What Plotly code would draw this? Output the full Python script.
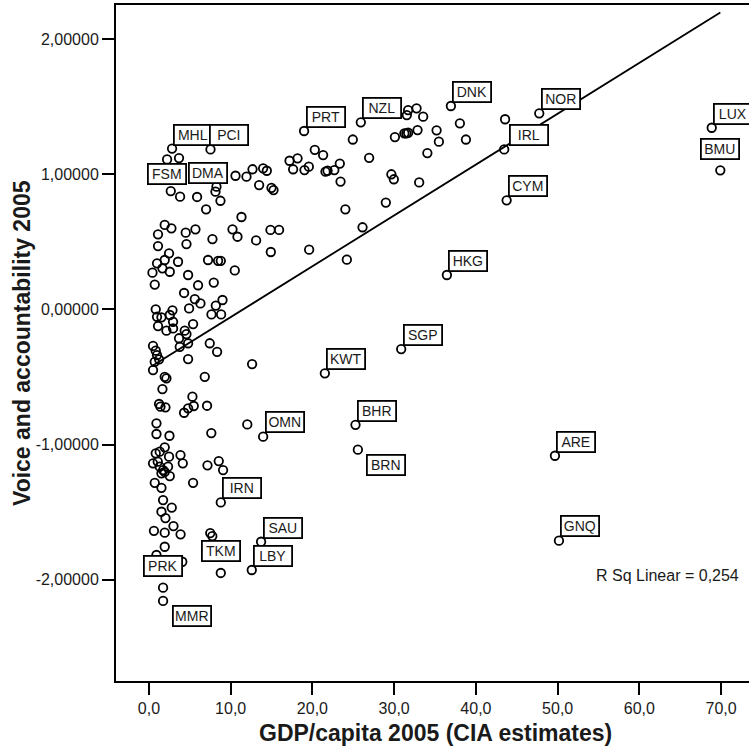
import plotly.graph_objects as go

# Countries without a code label: GDP per capita 2005 (thousand USD) and voice & accountability 2005
gdp_other = [
    2.22, 3.68, 2.67, 3.81, 5.89, 8.14, 8.26, 8.75, 6.99, 10.59,
    11.93, 12.67, 13.97, 14.42, 13.48, 14.99, 15.24, 17.20, 18.18, 17.64,
    19.03, 19.56, 20.29, 21.31, 21.60, 21.85, 22.68, 23.35, 23.44, 24.94,
    26.94, 29.66, 29.96, 30.09, 33.06, 31.55, 31.71, 32.74, 33.55, 31.25,
    31.49, 31.71, 32.86, 34.06, 35.19, 35.47, 38.04, 38.78, 43.57, 28.98,
    24.03, 26.13, 24.21, 19.60, 11.32, 10.22, 10.83, 13.11, 14.87, 15.92,
    14.91, 1.93, 2.75, 1.11, 4.50, 5.69, 4.59, 1.11, 7.77, 2.46,
    1.93, 0.99, 1.65, 3.56, 2.55, 0.43, 0.71, 4.79, 7.23, 8.46,
    8.79, 10.50, 6.01, 7.93, 4.30, 5.61, 6.30, 4.91, 8.18, 9.00,
    0.83, 2.88, 7.65, 8.83, 0.99, 1.53, 2.55, 2.95, 1.11, 2.14,
    2.95, 5.40, 4.38, 4.59, 3.68, 4.79, 3.77, 7.44, 8.34, 4.79,
    12.62, 0.50, 0.83, 0.99, 1.24, 0.71, 0.50, 1.93, 2.14, 6.83,
    1.65, 5.32, 5.48, 4.79, 4.30, 1.24, 1.41, 2.02, 7.11, 0.92,
    0.92, 2.51, 7.63, 12.03, 1.93, 1.32, 0.83, 2.46, 3.86, 4.14,
    0.50, 1.32, 2.34, 1.73, 1.08, 1.93, 1.53, 2.55, 0.71, 1.53,
    5.40, 7.16, 8.54, 9.07, 1.73, 2.79, 1.53, 2.02, 3.00, 0.61,
    1.93, 3.87, 7.50, 7.75, 1.93, 0.92, 4.08,
]
va_other = [
    1.109, 1.119, 0.875, 0.833, 0.831, 0.870, 0.907, 0.803, 0.740, 0.988,
    0.981, 1.036, 1.043, 1.025, 0.919, 0.899, 0.882, 1.099, 1.117, 1.036,
    1.030, 1.055, 1.180, 1.141, 1.018, 1.025, 1.030, 1.078, 0.945, 1.256,
    1.121, 0.999, 0.962, 1.274, 0.939, 1.437, 1.474, 1.487, 1.425, 1.302,
    1.302, 1.306, 1.326, 1.156, 1.324, 1.240, 1.376, 1.256, 1.406, 0.790,
    0.740, 0.607, 0.367, 0.441, 0.683, 0.592, 0.537, 0.510, 0.587, 0.587,
    0.424, 0.624, 0.599, 0.555, 0.567, 0.592, 0.483, 0.468, 0.520, 0.414,
    0.365, 0.340, 0.303, 0.352, 0.278, 0.271, 0.183, 0.254, 0.365, 0.359,
    0.359, 0.288, 0.178, 0.198, 0.121, 0.076, 0.044, 0.007, 0.028, 0.069,
    0.000, -0.007, -0.038, -0.038, -0.055, -0.059, -0.042, -0.092, -0.124, -0.158,
    -0.141, -0.109, -0.158, -0.183, -0.214, -0.251, -0.277, -0.251, -0.314, -0.368,
    -0.405, -0.271, -0.306, -0.338, -0.370, -0.388, -0.449, -0.499, -0.510, -0.499,
    -0.590, -0.646, -0.715, -0.732, -0.765, -0.700, -0.720, -0.725, -0.713, -0.843,
    -0.922, -0.935, -0.915, -0.851, -1.021, -1.053, -1.065, -1.090, -1.078, -1.139,
    -1.139, -1.164, -1.164, -1.189, -1.127, -1.203, -1.213, -1.233, -1.283, -1.320,
    -1.283, -1.154, -1.122, -1.189, -1.411, -1.466, -1.497, -1.544, -1.603, -1.638,
    -1.652, -1.664, -1.655, -1.677, -1.756, -1.817, -1.867,
]

# Countries marked with their ISO code
label_codes = ["MHL", "PCI", "FSM", "DMA", "PRT", "NZL", "DNK", "NOR", "IRL", "LUX",
               "BMU", "CYM", "HKG", "SGP", "KWT", "BHR", "BRN", "ARE", "GNQ", "OMN",
               "IRN", "SAU", "LBY", "TKM", "PRK", "MMR"]
label_gdp = [2.83, 7.53, 2.20, 7.17, 18.98, 25.92, 36.94, 47.75, 43.46, 68.85,
             69.90, 43.76, 36.45, 30.86, 21.52, 25.27, 25.56, 49.67, 50.16, 13.97,
             8.79, 13.72, 12.58, 8.79, 1.73, 1.73]
label_va = [1.189, 1.183, 0.987, 0.993, 1.319, 1.383, 1.504, 1.450, 1.183, 1.343,
            1.028, 0.806, 0.254, -0.294, -0.473, -0.854, -1.038, -1.083, -1.711, -0.942,
            -1.428, -1.719, -1.928, -1.950, -2.059, -2.157]

# Linear fit (R Sq Linear = 0,254)
fit_intercept = -0.4335
fit_slope = 0.03761
r_squared_text = "R Sq Linear = 0,254"

x_tick_vals = [0, 10, 20, 30, 40, 50, 60, 70]
x_tick_text = ["0,0", "10,0", "20,0", "30,0", "40,0", "50,0", "60,0", "70,0"]
y_tick_vals = [2, 1, 0, -1, -2]
y_tick_text = ["2,00000", "1,00000", "0,00000", "-1,00000", "-2,00000"]

# label box placement relative to its point (pixels right, pixels up)
default_offset = (21.5, 14.2)
label_offsets = {
    "MHL": (21, 13.5), "PCI": (18.3, 14.3), "FSM": (0, 2), "DMA": (0, 1.7),
    "IRL": (25.2, 14.3), "BMU": (0, 21.6), "BRN": (27.7, -15.5),
    "TKM": (0.3, 22), "PRK": (0, 22.2), "MMR": (28.9, -15.3),
}

FONT = "Liberation Sans, Arial, sans-serif"
INK = "#1a1a1a"

all_x = gdp_other + label_gdp
fit_x = [min(all_x), max(all_x)]
fit_y = [fit_intercept + fit_slope * v for v in fit_x]

fig = go.Figure()
fig.add_trace(go.Scatter(
    x=fit_x, y=fit_y, mode="lines",
    line=dict(color="black", width=1.8), hoverinfo="skip", showlegend=False,
))
fig.add_trace(go.Scatter(
    x=all_x, y=va_other + label_va, mode="markers",
    marker=dict(symbol="circle-open", size=8.5, color="black", line=dict(width=1.8)),
    showlegend=False,
))

for code, gx, vy in zip(label_codes, label_gdp, label_va):
    dx, dy = label_offsets.get(code, default_offset)
    fig.add_annotation(
        x=gx, y=vy, xref="x", yref="y", text=code, showarrow=False,
        xanchor="center", yanchor="middle", xshift=dx, yshift=dy,
        width=34, height=16, borderpad=1, borderwidth=1.8,
        bordercolor="black", bgcolor="white",
        font=dict(family=FONT, size=14, color=INK),
    )

fig.add_annotation(
    x=63.5, y=-1.965, xref="x", yref="y", text=r_squared_text, showarrow=False,
    xanchor="center", yanchor="middle", font=dict(family=FONT, size=16, color=INK),
)

# axis titles
fig.add_annotation(
    x=0, y=0.5, xref="paper", yref="paper", xshift=-94, textangle=-90,
    text="<b>Voice and accountability 2005</b>", showarrow=False,
    xanchor="center", yanchor="middle", font=dict(family=FONT, size=23, color=INK),
)
fig.add_annotation(
    x=0.5, y=0, xref="paper", yref="paper", xshift=3, yshift=-52,
    text="<b>GDP/capita 2005 (CIA estimates)</b>", showarrow=False,
    xanchor="center", yanchor="middle", font=dict(family=FONT, size=23, color=INK),
)

fig.update_layout(
    width=749, height=749,
    margin=dict(l=116, r=0, t=5, b=68),
    paper_bgcolor="white", plot_bgcolor="white",
    font=dict(family=FONT, size=16, color=INK),
    xaxis=dict(
        range=[-4.03, 73.41], tickvals=x_tick_vals, ticktext=x_tick_text,
        showgrid=False, zeroline=False, showline=True, mirror=True,
        linecolor="black", linewidth=2, ticks="outside", ticklen=12,
        tickwidth=2, tickcolor="black", tickfont=dict(size=16, color=INK),
    ),
    yaxis=dict(
        range=[-2.749, 2.251], tickvals=y_tick_vals, ticktext=y_tick_text,
        showgrid=False, zeroline=False, showline=True, mirror=False,
        linecolor="black", linewidth=2, ticks="outside", ticklen=12,
        tickwidth=2, tickcolor="black", tickfont=dict(size=16, color=INK),
    ),
)

fig.write_html("out.html")
